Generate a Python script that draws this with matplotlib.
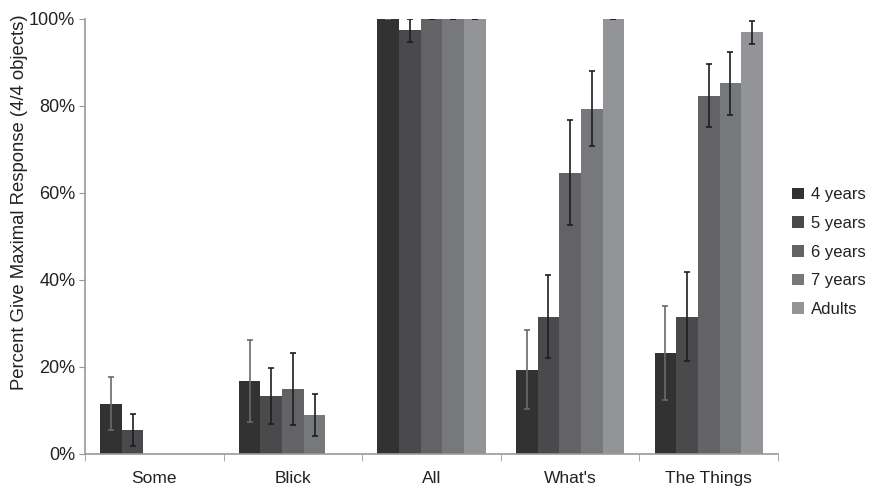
import numpy as np
import matplotlib
matplotlib.use('Agg')
import matplotlib.pyplot as plt
from matplotlib.ticker import PercentFormatter

plt.rcParams['font.family'] = ['Liberation Sans', 'DejaVu Sans']

# Data (percent giving maximal response)
categories = ['Some', 'Blick', 'All', "What's", 'The Things']
groups = ['4 years', '5 years', '6 years', '7 years', 'Adults']
values = {
    '4 years': [11.5, 16.7, 100, 19.4, 23.2],
    '5 years': [5.5, 13.3, 97.4, 31.6, 31.6],
    '6 years': [0, 15.0, 100, 64.7, 82.4],
    '7 years': [0, 9.0, 100, 79.4, 85.2],
    'Adults': [0, 0, 100, 100, 96.9],
}
errors = {
    '4 years': [6.1, 9.4, 0, 9.0, 10.8],
    '5 years': [3.6, 6.5, 2.6, 9.6, 10.2],
    '6 years': [0, 8.3, 0, 12.0, 7.3],
    '7 years': [0, 4.8, 0, 8.6, 7.2],
    'Adults': [0, 0, 0, 0, 2.7],
}
colors = ['#323232', '#4a4a4c', '#636365', '#77787b', '#939498']
err_colors = ['#6a6a6a', '#1e1e1e', '#1e1e1e', '#1e1e1e', '#1e1e1e']

fig = plt.figure(figsize=(8.69, 4.87), dpi=100)
ax = fig.add_axes([0.0978, 0.0678, 0.7975, 0.8932])

x = np.arange(len(categories))
width = 0.156
for i, g in enumerate(groups):
    pos = x + (i - 2) * width
    ax.bar(pos, values[g], width, color=colors[i], label=g, zorder=2)
    # caps on empty bars look faint in the original
    ec = [err_colors[i] if v > 0 else '#aaaaaa' for v in values[g]]
    for p, v, e, c in zip(pos, values[g], errors[g], ec):
        ax.errorbar(p, v, yerr=e, fmt='none', ecolor=c,
                    elinewidth=1.2, capsize=2.2, capthick=1.2, zorder=3)

ax.set_xlim(-0.5, len(categories) - 0.5)
ax.set_ylim(0, 100)
ax.set_yticks([0, 20, 40, 60, 80, 100])
ax.yaxis.set_major_formatter(PercentFormatter(decimals=0))
ax.set_xticks(x)
ax.set_xticklabels(categories)
ax.set_xticks(np.arange(-0.5, len(categories)), minor=True)
ax.tick_params(axis='x', which='major', length=0, pad=12, labelsize=12.5, colors='#222222')
ax.tick_params(axis='x', which='minor', length=5, color='#999999', direction='out')
ax.tick_params(axis='y', length=4, color='#999999', labelsize=13, labelcolor='#222222', pad=3)
ax.set_ylabel('Percent Give Maximal Response (4/4 objects)', fontsize=13.3, color='#222222')
ax.yaxis.set_label_coords(-0.082, 0.58)

for s in ['top', 'right']:
    ax.spines[s].set_visible(False)
for s in ['left', 'bottom']:
    ax.spines[s].set_color('#999999')
    ax.spines[s].set_linewidth(1.2)

fig.legend(loc='center left', bbox_to_anchor=(0.894, 0.482), frameon=False,
           fontsize=12, handlelength=0.7, handleheight=0.7, handletextpad=0.45,
           labelspacing=0.82, labelcolor='#222222')

fig.savefig('out.png', dpi=100)
